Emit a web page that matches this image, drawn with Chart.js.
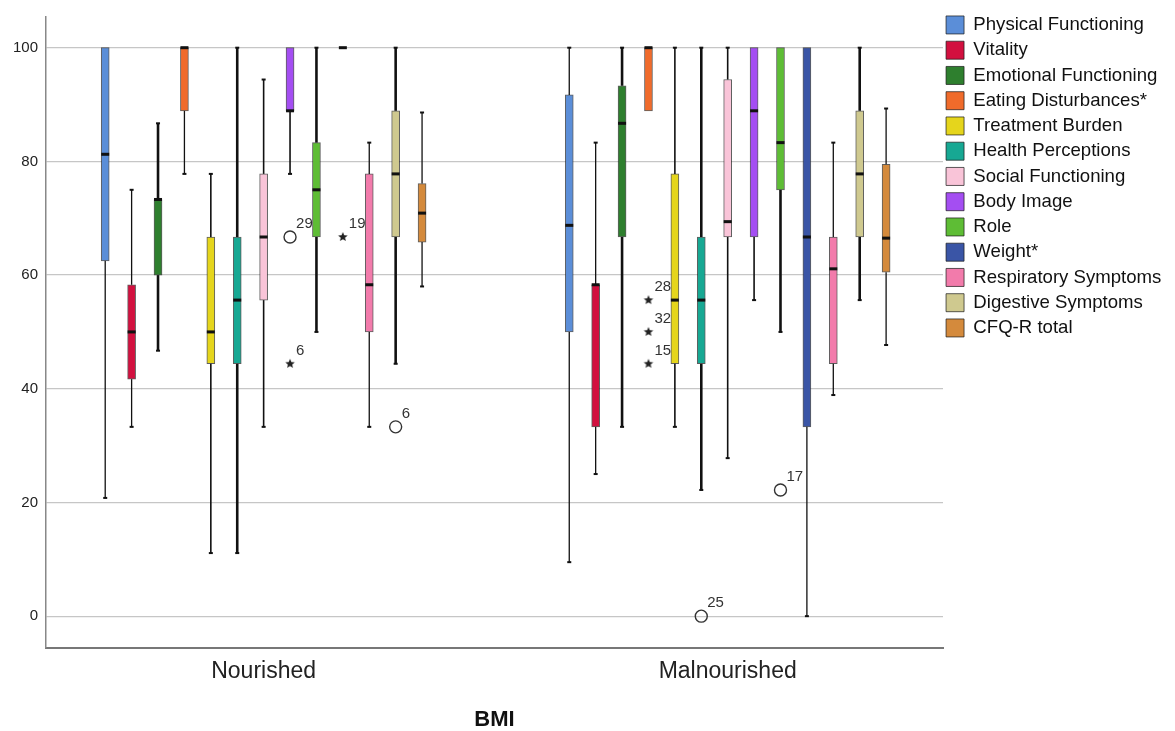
<!DOCTYPE html>
<html>
<head>
<meta charset="utf-8">
<title>CFQ-R domains by BMI</title>
<script src="https://cdn.jsdelivr.net/npm/chart.js@4.4.1/dist/chart.umd.min.js"></script>
<style>
  html, body { margin: 0; padding: 0; background: #fff; }
  #wrap { width: 1175px; height: 731px; }
</style>
</head>
<body>
<div id="wrap"><canvas id="boxChart" width="1175" height="731"></canvas></div>
<script>
const categories = ['Nourished', 'Malnourished'];
const seriesNames = [
  'Physical Functioning', 'Vitality', 'Emotional Functioning', 'Eating Disturbances*',
  'Treatment Burden', 'Health Perceptions', 'Social Functioning', 'Body Image', 'Role',
  'Weight*', 'Respiratory Symptoms', 'Digestive Symptoms', 'CFQ-R total'
];
const seriesColors = [
  '#5b8ed8', '#d2103f', '#2e7f2e', '#f06b2b', '#e5d51c', '#17a893', '#f9c4d8',
  '#a44ef2', '#5ebd35', '#3a55a6', '#f27bab', '#cfc98f', '#d48a3c'
];
const whiskerWidths = [1.3, 1.3, 2.6, 1.3, 1.6, 2.6, 1.6, 1.6, 2.6, 1.3, 1.3, 2.6, 1.3];

// five-number summaries, one entry per domain
const nourishedMin    = [20.8, 33.3, 46.7, 77.8, 11.1, 11.1, 33.3, 77.8, 50.0, 100, 33.3, 44.4, 58.0];
const nourishedQ1     = [62.5, 41.7, 60.0, 88.9, 44.4, 44.4, 55.6, 88.9, 66.7, 100, 50.0, 66.7, 65.8];
const nourishedMedian = [81.25, 50.0, 73.3, 100, 50.0, 55.6, 66.7, 88.9, 75.0, 100, 58.3, 77.8, 70.9];
const nourishedQ3     = [100, 58.3, 73.3, 100, 66.7, 66.7, 77.8, 100, 83.3, 100, 77.8, 88.9, 76.1];
const nourishedMax    = [100, 75.0, 86.7, 100, 77.8, 100, 94.4, 100, 100, 100, 83.3, 100, 88.6];

const malnourishedMin    = [9.5, 25.0, 33.3, 88.9, 33.3, 22.2, 27.8, 55.6, 50.0, 0, 38.9, 55.6, 47.7];
const malnourishedQ1     = [50.0, 33.3, 66.7, 88.9, 44.4, 44.4, 66.7, 66.7, 75.0, 33.3, 44.4, 66.7, 60.5];
const malnourishedMedian = [68.75, 58.3, 86.7, 100, 55.6, 55.6, 69.4, 88.9, 83.3, 66.7, 61.1, 77.8, 66.5];
const malnourishedQ3     = [91.7, 58.3, 93.3, 100, 77.8, 66.7, 94.4, 100, 100, 100, 66.7, 88.9, 79.5];
const malnourishedMax    = [100, 83.3, 100, 100, 100, 100, 100, 100, 100, 100, 83.3, 100, 89.3];

// outliers: domain index, BMI group, score, case number, marker
const outlierSeries   = [7, 7, 9, 11, 3, 3, 3, 5, 8];
const outlierCategory = [0, 0, 0, 0, 1, 1, 1, 1, 1];
const outlierValues   = [66.7, 44.4, 66.7, 33.3, 55.6, 50.0, 44.4, 0, 22.2];
const outlierCases    = ['29', '6', '19', '6', '28', '32', '15', '25', '17'];
const outlierKinds    = ['circle', 'star', 'star', 'circle', 'star', 'star', 'star', 'circle', 'circle'];

const yTicks = [0, 20, 40, 60, 80, 100];

const FONT = "'Liberation Sans', Arial, sans-serif";
Chart.defaults.font.family = FONT;

const stats = [
  { min: nourishedMin, q1: nourishedQ1, med: nourishedMedian, q3: nourishedQ3, max: nourishedMax },
  { min: malnourishedMin, q1: malnourishedQ1, med: malnourishedMedian, q3: malnourishedQ3, max: malnourishedMax }
];

// boxes within a group sit side by side around the group's index
const seriesStep = 0.0569;
const xPos = (cat, s) => cat + (s - (seriesNames.length - 1) / 2) * seriesStep;

function makeStar(r) {
  const size = Math.ceil(r * 2) + 2;
  const c = document.createElement('canvas');
  c.width = c.height = size;
  const g = c.getContext('2d');
  g.fillStyle = '#222';
  g.beginPath();
  for (let k = 0; k < 10; k++) {
    const rad = k % 2 ? r * 0.45 : r;
    const a = -Math.PI / 2 + k * Math.PI / 5;
    g.lineTo(size / 2 + rad * Math.cos(a), size / 2 + rad * Math.sin(a));
  }
  g.closePath();
  g.fill();
  return c;
}

const boxDatasets = seriesNames.map((name, s) => ({
  type: 'bar',
  label: name,
  data: categories.map((c, ci) => ({ x: xPos(ci, s), y: [stats[ci].q1[s], stats[ci].q3[s]] })),
  backgroundColor: seriesColors[s],
  borderColor: 'rgba(25,25,25,0.7)',
  borderWidth: 1,
  borderSkipped: false,
  barThickness: 8,
  grouped: false
}));

const outlierPoints = kind => outlierValues
  .map((v, k) => ({ x: xPos(outlierCategory[k], outlierSeries[k]), y: v, caseId: outlierCases[k], kind: outlierKinds[k] }))
  .filter(p => p.kind === kind);

const outlierDatasets = [
  {
    type: 'scatter', label: 'outliers', data: outlierPoints('circle'),
    pointStyle: 'circle', pointRadius: 6, pointBackgroundColor: 'rgba(255,255,255,0)',
    pointBorderColor: '#333', pointBorderWidth: 1.4
  },
  {
    type: 'scatter', label: 'extremes', data: outlierPoints('star'),
    pointStyle: makeStar(5), pointRadius: 5
  }
];

const boxWhiskers = {
  id: 'boxWhiskers',
  afterLayout(chart) {
    // pull the legend a little closer to the plot and the top edge
    const lg = chart.legend;
    if (lg) {
      lg.left -= 3.6;
      lg.top -= 3;
    }
  },
  beforeDatasetsDraw(chart) {
    const ctx = chart.ctx, y = chart.scales.y;
    ctx.save();
    ctx.strokeStyle = '#111';
    seriesNames.forEach((name, s) => {
      chart.getDatasetMeta(s).data.forEach((bar, ci) => {
        const st = stats[ci];
        const x = bar.x;
        ctx.lineWidth = whiskerWidths[s];
        [[st.q3[s], st.max[s]], [st.q1[s], st.min[s]]].forEach(([from, to]) => {
          if (from === to) return;
          const y0 = y.getPixelForValue(from), y1 = y.getPixelForValue(to);
          ctx.beginPath();
          ctx.moveTo(x, y0);
          ctx.lineTo(x, y1);
          ctx.stroke();
          ctx.fillStyle = '#111';
          ctx.fillRect(x - 2, y1 - 1, 4, 2);
        });
      });
    });
    ctx.restore();
  },
  afterDatasetsDraw(chart) {
    const ctx = chart.ctx, y = chart.scales.y;
    ctx.save();
    ctx.fillStyle = '#111';
    seriesNames.forEach((name, s) => {
      chart.getDatasetMeta(s).data.forEach((bar, ci) => {
        const ym = y.getPixelForValue(stats[ci].med[s]);
        ctx.fillRect(bar.x - bar.width / 2, ym - 1.5, bar.width, 3);
      });
    });
    // case numbers beside the outlying points
    ctx.font = '15px ' + FONT;
    ctx.fillStyle = '#333';
    ctx.textAlign = 'left';
    ctx.textBaseline = 'middle';
    outlierDatasets.forEach((ds, k) => {
      const meta = chart.getDatasetMeta(seriesNames.length + k);
      meta.data.forEach((pt, j) => {
        ctx.fillText(ds.data[j].caseId, pt.x + 6, pt.y - 13);
      });
    });
    ctx.restore();
  }
};

new Chart(document.getElementById('boxChart').getContext('2d'), {
  type: 'bar',
  data: { datasets: [...boxDatasets, ...outlierDatasets] },
  options: {
    responsive: false,
    animation: false,
    layout: { padding: { top: 12, right: 0, bottom: 0, left: 0 } },
    plugins: {
      tooltip: { enabled: false },
      legend: {
        position: 'right',
        align: 'start',
        maxWidth: 232,
        labels: {
          boxWidth: 18,
          boxHeight: 18,
          padding: 6.65,
          color: '#111',
          font: { size: 18.6, family: FONT },
          filter: item => item.datasetIndex < seriesNames.length
        }
      }
    },
    scales: {
      x: {
        type: 'linear',
        min: -0.469,
        max: 1.464,
        offset: false,
        afterBuildTicks: s => { s.ticks = categories.map((c, i) => ({ value: i })); },
        afterFit: s => { s.height = 83; },
        ticks: {
          callback: v => categories[v],
          padding: 10,
          color: '#222',
          autoSkip: false,
          maxRotation: 0,
          font: { size: 23 }
        },
        grid: { display: false, drawTicks: false },
        border: { color: '#777', width: 2 },
        title: {
          display: true,
          text: 'BMI',
          color: '#111',
          font: { size: 22, weight: 'bold', lineHeight: 1 },
          padding: { top: 0, bottom: 0 }
        }
      },
      y: {
        min: -5.6,
        max: 105.4,
        afterBuildTicks: s => { s.ticks = yTicks.map(v => ({ value: v })); },
        afterFit: s => { s.width = 46; },
        ticks: { padding: 8, color: '#222', font: { size: 15 } },
        grid: { color: '#c6c6c6', lineWidth: 1.3, drawTicks: false },
        border: { color: '#888', width: 1.5 }
      }
    }
  },
  plugins: [boxWhiskers]
});
</script>
</body>
</html>
